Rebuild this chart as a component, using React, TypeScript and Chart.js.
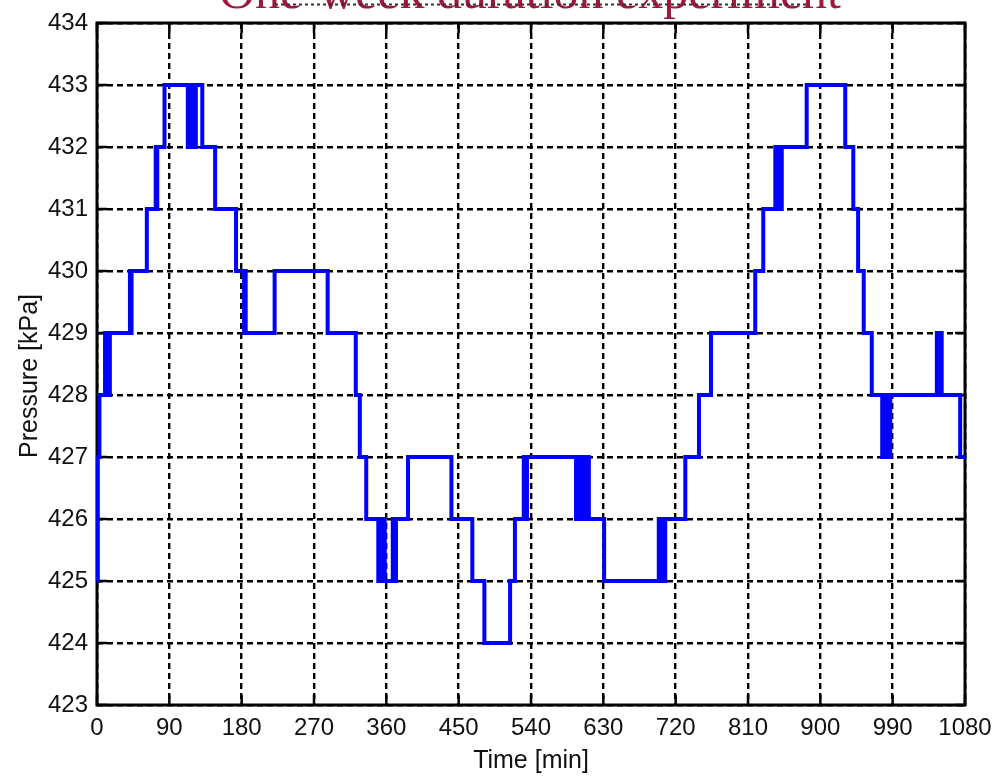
import React, { useEffect, useRef } from "react";
import { Chart, registerables } from "chart.js";

Chart.register(...registerables);

const TITLE = "One-week duration experiment";
const X_TITLE = "Time [min]";
const Y_TITLE = "Pressure [kPa]";

const X_TICKS = [0, 90, 180, 270, 360, 450, 540, 630, 720, 810, 900, 990, 1080];
const Y_TICKS = [423, 424, 425, 426, 427, 428, 429, 430, 431, 432, 433, 434];

// time (min) at which the pressure steps to the new value
const TIMES = [
  0, 1, 3, 10, 11, 13, 14, 16, 41, 42, 43, 62, 73, 74, 75, 84, 113, 115, 117, 119, 121, 123,
  131, 147, 173, 183, 184, 185, 221, 287, 322, 327, 335, 350, 352, 354, 356, 358, 368, 370,
  372, 387, 441, 467, 482, 514, 520, 531, 533, 535, 596, 598, 600, 602, 604, 606, 608, 610,
  612, 631, 699, 701, 703, 705, 707, 732, 749, 764, 819, 829, 844, 846, 848, 850, 852, 883,
  931, 941, 947, 954, 964, 977, 979, 981, 983, 985, 987, 1045, 1047, 1049, 1051, 1074, 1080,
];
const PRESSURES = [
  425, 427, 428, 429, 428, 429, 428, 429, 430, 429, 430, 431, 432, 431, 432, 433, 432, 433, 432,
  433, 432, 433, 432, 431, 430, 429, 430, 429, 430, 429, 428, 427, 426, 425, 426, 425, 426, 425,
  426, 425, 426, 427, 426, 425, 424, 425, 426, 427, 426, 427, 426, 427, 426, 427, 426, 427, 426,
  427, 426, 425, 426, 425, 426, 425, 426, 427, 428, 429, 430, 431, 432, 431, 432, 431, 432, 433,
  432, 431, 430, 429, 428, 427, 428, 427, 428, 427, 428, 429, 428, 429, 428, 427, 427,
];

const framePlugin = {
  id: "frame",
  beforeDatasetsDraw(chart: any) {
    const { ctx, chartArea: a, scales } = chart;
    ctx.save();
    ctx.setLineDash([]);
    ctx.strokeStyle = "#000";
    ctx.lineWidth = 2.5;
    ctx.beginPath();
    const L = 10;
    for (const v of X_TICKS) {
      const px = scales.x.getPixelForValue(v);
      ctx.moveTo(px, a.bottom);
      ctx.lineTo(px, a.bottom - L);
      ctx.moveTo(px, a.top);
      ctx.lineTo(px, a.top + L);
    }
    for (const v of Y_TICKS) {
      const py = scales.y.getPixelForValue(v);
      ctx.moveTo(a.left, py);
      ctx.lineTo(a.left + L, py);
      ctx.moveTo(a.right, py);
      ctx.lineTo(a.right - L, py);
    }
    ctx.stroke();
    ctx.lineWidth = 3;
    ctx.strokeRect(a.left, a.top, a.right - a.left, a.bottom - a.top);
    ctx.restore();
  },
  afterDraw(chart: any) {
    const { ctx, chartArea: a } = chart;
    ctx.save();
    // main title (partly cut off at top)
    ctx.fillStyle = "#9c1a3e";
    ctx.font = '50px "Liberation Serif", "Times New Roman", serif';
    ctx.textAlign = "center";
    ctx.textBaseline = "alphabetic";
    ctx.fillText(TITLE, 530, 8);
    ctx.setLineDash([3, 3]);
    ctx.strokeStyle = "#333";
    ctx.lineWidth = 2;
    ctx.beginPath();
    ctx.moveTo(275, 4.5);
    ctx.lineTo(810, 4.5);
    ctx.stroke();
    ctx.setLineDash([]);
    // x axis title
    ctx.fillStyle = "#111";
    ctx.font = '25px "Liberation Sans", Arial, sans-serif';
    ctx.textAlign = "center";
    ctx.textBaseline = "alphabetic";
    ctx.fillText(X_TITLE, (a.left + a.right) / 2, 768);
    // y axis title
    ctx.translate(37, 376);
    ctx.rotate(-Math.PI / 2);
    ctx.fillText(Y_TITLE, 0, 0);
    ctx.restore();
  },
};

export default function App() {
  const ref = useRef<HTMLCanvasElement | null>(null);
  useEffect(() => {
    document.body.style.margin = "0";
    const canvas = ref.current;
    if (!canvas) return;
    const points = TIMES.map((t, i) => ({ x: t, y: PRESSURES[i] }));
    const tickFont = { family: '"Liberation Sans", Arial, sans-serif', size: 24 };
    const chart = new Chart(canvas, {
      type: "line",
      data: {
        datasets: [
          {
            data: points,
            borderColor: "#0000ff",
            borderWidth: 4,
            pointRadius: 0,
            stepped: "before",
            fill: false,
            clip: false,
          } as any,
        ],
      },
      options: {
        animation: false,
        responsive: false,
        devicePixelRatio: 1,
        layout: { padding: { top: 23, right: 33, left: 0, bottom: 0 } },
        plugins: { legend: { display: false }, tooltip: { enabled: false }, title: { display: false } },
        scales: {
          x: {
            type: "linear",
            min: 0,
            max: 1080,
            afterBuildTicks: (s: any) => {
              s.ticks = X_TICKS.map((v) => ({ value: v }));
            },
            afterFit: (s: any) => {
              s.height = 71;
              s.paddingRight = 0;
              s.paddingLeft = 0;
            },
            grid: { color: "#000", lineWidth: 2.4, drawTicks: false },
            border: { display: false, dash: [6, 4] },
            ticks: {
              color: "#111",
              font: tickFont,
              padding: 9,
              maxRotation: 0,
              autoSkip: false,
              callback: (v: any) => String(v),
            },
          },
          y: {
            type: "linear",
            min: 423,
            max: 434,
            afterBuildTicks: (s: any) => {
              s.ticks = Y_TICKS.map((v) => ({ value: v }));
            },
            afterFit: (s: any) => {
              s.width = 97;
              s.paddingTop = 0;
              s.paddingBottom = 0;
            },
            grid: { color: "#000", lineWidth: 2.4, drawTicks: false },
            border: { display: false, dash: [6, 4] },
            ticks: { color: "#111", font: tickFont, padding: 9, autoSkip: false, callback: (v: any) => String(v) },
          },
        },
      },
      plugins: [framePlugin],
    });
    return () => chart.destroy();
  }, []);
  return (
    <div style={{ position: "absolute", left: 0, top: 0, width: 998, height: 776, background: "#fff" }}>
      <canvas ref={ref} width={998} height={776} />
    </div>
  );
}
